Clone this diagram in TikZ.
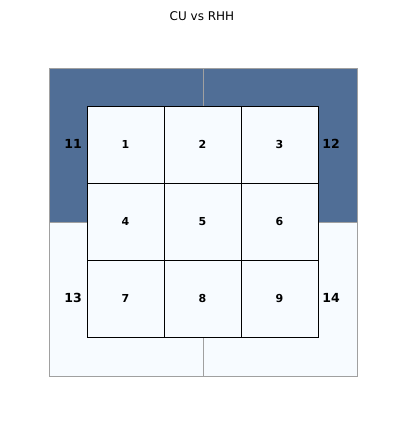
\documentclass[tikz,border=0pt]{standalone}
\usepackage{fontspec}
\setmainfont{DejaVu Sans}
\definecolor{hiblue}{HTML}{506E96}
\definecolor{loblue}{HTML}{F7FBFF}
\definecolor{rimgray}{HTML}{A0A0A0}
\tikzset{
    quad/.style={draw=rimgray, line width=0.8pt},
    cell/.style={draw=black, fill=loblue, line width=1pt, minimum size=77pt, inner sep=0pt, text height=8pt, text depth=0pt, font=\bfseries\fontsize{11}{12}\selectfont},
    side/.style={text height=9pt, text depth=0pt, font=\bfseries\fontsize{12.5}{14}\selectfont}
}
\begin{document}
\begin{tikzpicture}[x=1pt,y=-1pt]
  \useasboundingbox [fill=white] (0,0) rectangle (404,424);
  \node [font=\fontsize{12}{14}\selectfont] (title) at (202,16) {CU vs RHH};
  % outer quadrants
  \draw [quad, fill=hiblue] (49,68) rectangle (203,222);
  \draw [quad, fill=hiblue] (203,68) rectangle (357,222);
  \draw [quad, fill=loblue] (49,222) rectangle (203,376);
  \draw [quad, fill=loblue] (203,222) rectangle (357,376);
  \node [side] (q11) at (73,144) {11};
  \node [side] (q12) at (331,144) {12};
  \node [side] (q13) at (73,298) {13};
  \node [side] (q14) at (331,298) {14};
  % inner grid
  \foreach \r in {0,1,2} {
    \foreach \c in {0,1,2} {
      \pgfmathtruncatemacro{\k}{3*\r+\c+1}
      \node [cell] (c\k) at (125.5+77*\c,144.5+77*\r) {\k};
    }
  }
\end{tikzpicture}
\end{document}
